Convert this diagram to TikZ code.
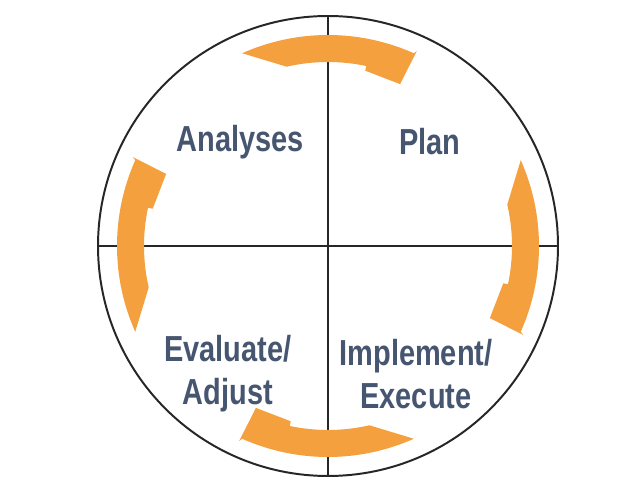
\documentclass[tikz,border=0pt]{standalone}
\usepackage{fontspec}
\setmainfont{Liberation Sans}
\definecolor{cycleorange}{RGB}{245,160,62}
\definecolor{phaseblue}{RGB}{70,86,112}
\tikzset{
  quarter/.style={line width=1.4pt, black!85},
  cyclearrow/.style={fill=cycleorange},
  phase/.style={text=phaseblue, font=\fontsize{20.6}{24.4}\selectfont\bfseries,
    align=center, yscale=1.25, transform shape}
}
\begin{document}
\begin{tikzpicture}
  \useasboundingbox (-8.2,-5.9) rectangle (7.6,6.15);
  \node[coordinate] (top) at (0,5.75) {};
  \node[coordinate] (bottom) at (0,-5.75) {};
  \node[coordinate] (left) at (-5.75,0) {};
  \node[coordinate] (right) at (5.75,0) {};
  \draw[quarter] (0,0) circle[radius=5.75];
  \draw[quarter] (top) -- (bottom);
  \draw[quarter] (left) -- (right);
  \foreach \q in {90,0,-90,180}
    \fill[cyclearrow] (\q+24:5.275) arc[start angle=\q+24, end angle=\q-24, radius=5.275]
      -- (\q-24.5:5.36) -- (\q-24:4.43) -- (\q-12:4.48)
      -- (\q-12:4.6) arc[start angle=\q-12, end angle=\q+13, radius=4.6] -- cycle;
  \node[phase] (analyses) at (-2.2,2.6) {Analyses};
  \node[phase] (plan) at (2.55,2.6) {Plan};
  \node[phase] (evaluate) at (-2.5,-3.2) {Evaluate/\\Adjust};
  \node[phase] (implement) at (2.2,-3.2) {Implement/\\Execute};
\end{tikzpicture}
\end{document}
